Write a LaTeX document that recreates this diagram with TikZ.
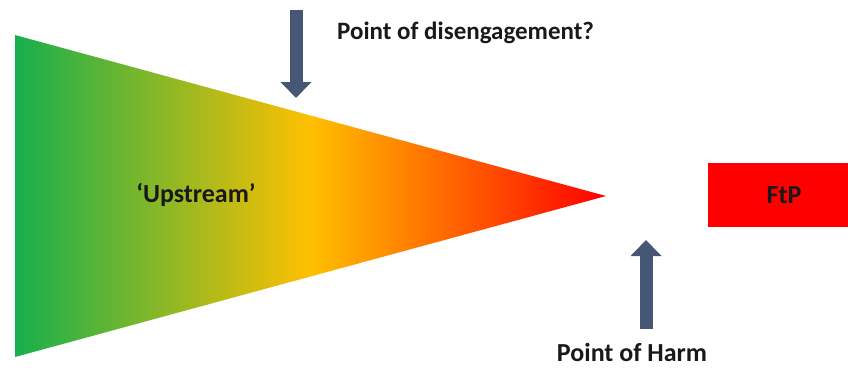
\documentclass[tikz,border=0pt]{standalone}
\usepackage{fontspec}
\setmainfont{Carlito}
\usetikzlibrary{arrows.meta}

\definecolor{upgreen}{RGB}{23,175,77}
\definecolor{upyellow}{RGB}{255,192,0}
\definecolor{upred}{RGB}{255,0,0}
\definecolor{slate}{RGB}{70,87,117}

\pgfdeclarehorizontalshading{upstreamshade}{100bp}{color(0bp)=(upgreen); color(25bp)=(upgreen); color(50bp)=(upyellow); color(75bp)=(upred); color(100bp)=(upred)}

\begin{document}
\begin{tikzpicture}[
  x=1pt, y=-1pt,
  lbl/.style={font=\fontsize{26}{30}\selectfont\bfseries, text=black!90, inner sep=0pt},
  blockarr/.style={line width=13pt, draw=slate, -{Triangle[width=30pt, length=16pt]}},
  ftpbox/.style={fill=upred, draw=none, minimum width=140pt, minimum height=64pt, inner sep=0pt}
]
\useasboundingbox (0,0) rectangle (848,368);

% funnel
\shade[shading=upstreamshade] (15,35) -- (606,196) -- (15,357) -- cycle;
\node[lbl] (up) at (196,195) {‘Upstream’};

% FtP box
\node[ftpbox] (ftp) at (778,195) {};
\node[lbl] (ftptxt) at (784,195) {FtP};

% arrows
\coordinate (dis-top) at (296,10);
\coordinate (dis-tip) at (296,98);
\coordinate (harm-bot) at (646,329);
\coordinate (harm-tip) at (646,240);
\draw[blockarr] (dis-top) -- (dis-tip);
\draw[blockarr] (harm-bot) -- (harm-tip);

\node[lbl, anchor=west, font=\fontsize{25}{30}\selectfont\bfseries] (dis) at (337,33) {Point of disengagement?};
\node[lbl, anchor=base, text depth=0pt] (harm) at (632,361) {Point of Harm};
\end{tikzpicture}
\end{document}
